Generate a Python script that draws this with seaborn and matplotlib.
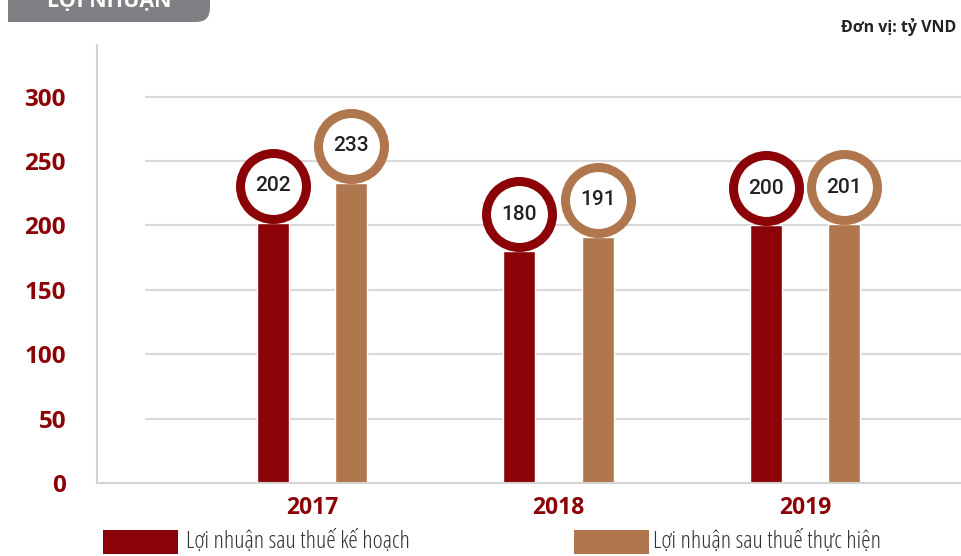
import pandas as pd
import matplotlib.pyplot as plt
import seaborn as sns
from matplotlib.patches import Rectangle, FancyBboxPatch

# Data (tỷ VND)
years = ['2017', '2018', '2019']
series = ['Lợi nhuận sau thuế kế hoạch', 'Lợi nhuận sau thuế thực hiện']
plan = [202, 180, 200]
actual = [233, 191, 201]
y_ticks = [0, 50, 100, 150, 200, 250, 300]

red = '#8b0307'
brown = '#b0774e'
grid_color = '#d9d9d9'

df = pd.DataFrame({
    'Năm': years * 2,
    'Chỉ tiêu': [series[0]] * 3 + [series[1]] * 3,
    'Giá trị': plan + actual,
})

sns.set_style('white')
plt.rcParams['font.family'] = ['Open Sans', 'DejaVu Sans']
plt.rcParams['font.stretch'] = 'condensed'

fig = plt.figure(figsize=(9.62, 5.56), dpi=100)
ax = fig.add_axes([97 / 962, 73 / 556, 865 / 962, 438 / 556])

sns.barplot(data=df, x='Năm', y='Giá trị', hue='Chỉ tiêu', hue_order=series,
            palette=[red, brown], width=0.64, saturation=1, legend=False,
            ax=ax, zorder=2)

ax.set_xlim(-0.872, 2.637)
ax.set_ylim(0, 340)

# narrow the bars around their centres, then put a ring on top of each
px_per_unit = 246.5
bar_w = 32 / px_per_unit
r_units = 37 / (438 / 340)
for p in ax.patches:
    h = p.get_height()
    if h <= 0:
        continue
    cx = p.get_x() + p.get_width() / 2
    p.set_x(cx - bar_w / 2)
    p.set_width(bar_w)
    col = p.get_facecolor()
    cy = h + r_units
    ax.scatter([cx], [cy], s=2256, facecolor='white', edgecolor=col,
               linewidth=6.5, zorder=3, clip_on=False)
    ax.text(cx, cy, f'{h:.0f}', ha='center', va='center', fontsize=15,
            color='#222222', family=['Roboto', 'DejaVu Sans'],
            fontstretch='normal', fontweight='medium', zorder=4)

# grid lines start a bit right of the axis line
x0 = -0.872 + 48 / px_per_unit
ax.hlines(y_ticks[1:], x0, 2.637, color=grid_color, lw=1.5, zorder=0)

for s in ['top', 'right']:
    ax.spines[s].set_visible(False)
for s in ['left', 'bottom']:
    ax.spines[s].set_color('#d4d4d4')
    ax.spines[s].set_linewidth(1.5)

ax.set_yticks(y_ticks)
ax.tick_params(axis='y', length=17.3, width=1.5, color='#d4d4d4',
               labelcolor=red, labelsize=17.5, pad=5)
ax.tick_params(axis='x', length=0, labelcolor=red, labelsize=16.5, pad=9)
for lab in ax.get_xticklabels() + ax.get_yticklabels():
    lab.set_fontweight('bold')
ax.set_xlabel('')
ax.set_ylabel('')

# unit note
fig.text(956 / 962, 1 - 27 / 556, 'Đơn vị: tỷ VND', ha='right', va='center',
         fontsize=11.5, fontweight='bold', color='#222222')

# title tab (cut at the top edge)
fig.add_artist(FancyBboxPatch((8, 534), 202, 80,
                              boxstyle='round,pad=0,rounding_size=14',
                              facecolor='#808084', edgecolor='none',
                              transform=None))
fig.add_artist(Rectangle((8, 534), 100, 80, facecolor='#808084',
                         edgecolor='none', transform=None))
fig.text(47 / 962, 1 - 7 / 556, 'LỢI NHUẬN', ha='left', va='baseline',
         fontsize=15.5, fontweight='bold', color='white')

# legend
leg_items = [(103, series[0], red, 186), (574, series[1], brown, 653)]
for x, label, col, tx in leg_items:
    fig.add_artist(Rectangle((x, 2), 75, 24, facecolor=col, edgecolor='none',
                             transform=None))
    fig.text(tx / 962, 14 / 556, label, ha='left', va='center',
             fontsize=17.5, color='#333333')

fig.savefig('out.png', dpi=100)
